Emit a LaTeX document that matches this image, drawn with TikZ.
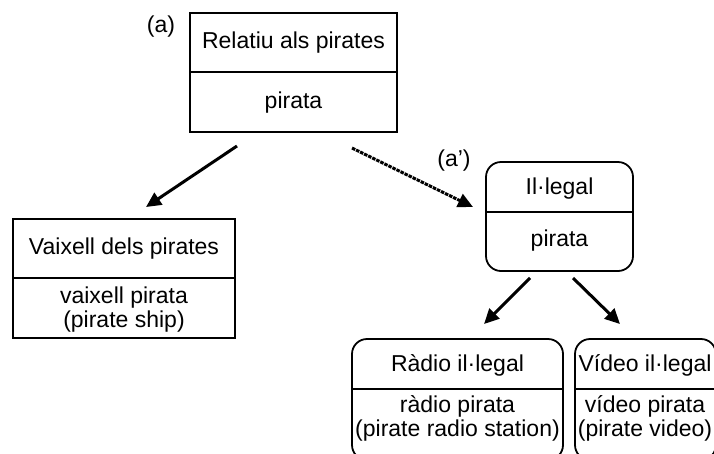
\documentclass[tikz,border=0pt]{standalone}
\usepackage{fontspec}
\setmainfont{Liberation Sans}
\usetikzlibrary{arrows.meta}
\tikzset{
  box/.style={draw=black, line width=1.8pt, inner sep=0pt},
  rbox/.style={box, rounded corners=15pt},
  lbl/.style={inner sep=0pt, font=\fontsize{23}{27}\selectfont, align=center},
  arr/.style={line width=3pt, -{Triangle[length=15pt,width=14pt]}},
  darr/.style={arr, dash pattern=on 3.5pt off 1pt},
}
\begin{document}
\begin{tikzpicture}[x=1pt,y=-1pt]
\useasboundingbox (0,0) rectangle (714,453);
\clip (0,0) rectangle (714,453);
% top box
\draw[box] (190,13) rectangle (397,132);
\draw[box] (190,72) -- (397,72);
\node[lbl] (t1) at (293.5,43) {Relatiu als pirates};
\node[lbl] (t2) at (293.5,103) {pirata};
\node[lbl] (a) at (161,27) {(a)};
% left box
\draw[box] (13,219) rectangle (235,338);
\draw[box] (13,278) -- (235,278);
\node[lbl] (l1) at (124,249) {Vaixell dels pirates};
\node[lbl] (l2) at (124,310) {vaixell pirata\\[-3pt] (pirate ship)};
% Il.legal box
\draw[rbox] (486,162) rectangle (633,271);
\draw[box] (486,212) -- (633,212);
\node[lbl] (m1) at (559.5,189) {Il·legal};
\node[lbl] (m2) at (559.5,241) {pirata};
\node[lbl] (ap) at (454,161) {(a’)};
% Radio box
\draw[rbox] (352,339) rectangle (563,460);
\draw[box] (352,389) -- (563,389);
\node[lbl] (r1) at (457.5,365) {Ràdio il·legal};
\node[lbl] (r2) at (457.5,418) {ràdio pirata\\[-3pt] (pirate radio station)};
% Video box
\draw[rbox] (575,339) rectangle (716,460);
\draw[box] (575,389) -- (716,389);
\node[lbl] (v1) at (645,365) {Vídeo il·legal};
\node[lbl] (v2) at (645,418) {vídeo pirata\\[-3pt] (pirate video)};
% arrows
\coordinate (s1) at (237,146);
\coordinate (e1) at (146,207);
\coordinate (s2) at (352,148);
\coordinate (e2) at (473,207);
\coordinate (s3) at (530,278);
\coordinate (e3) at (484,324);
\coordinate (s4) at (573,278);
\coordinate (e4) at (620,324);
\draw[arr] (s1) -- (e1);
\draw[darr] (s2) -- (e2);
\draw[arr] (s3) -- (e3);
\draw[arr] (s4) -- (e4);
\end{tikzpicture}
\end{document}
